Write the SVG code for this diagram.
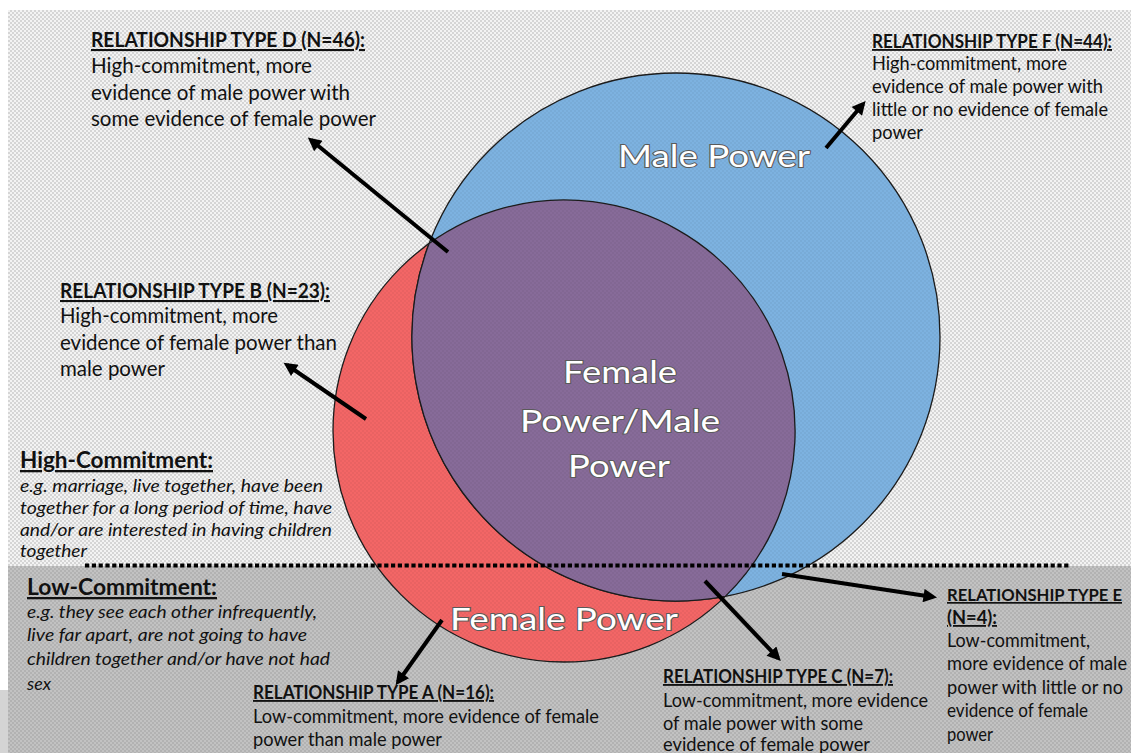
<svg xmlns="http://www.w3.org/2000/svg" width="1131" height="753" viewBox="0 0 1131 753">
<style>
text{font-family:Lato,"Liberation Sans",sans-serif;fill:#111;}
.h{font-weight:700;text-decoration:underline;}
.i{font-style:italic;}
.lbl{fill:#fff;stroke:#5a5a5a;stroke-width:2;paint-order:stroke;font-size:30px;}
.circ{stroke:#1c1c1c;stroke-width:1.3;}
.arr{stroke:#000;stroke-width:4;fill:none;marker-end:url(#ah);}
</style>
<defs>
<pattern id="pl" width="4" height="4" patternUnits="userSpaceOnUse"><rect width="4" height="4" fill="#f3f3f3"/><circle cx="1" cy="1" r="0.8" fill="#b0b0b0"/><circle cx="3" cy="3" r="0.8" fill="#b0b0b0"/></pattern>
<pattern id="pd" width="4" height="4" patternUnits="userSpaceOnUse"><rect width="4" height="4" fill="#b2b2b2"/><circle cx="1" cy="1" r="0.8" fill="#d6d6d6"/><circle cx="3" cy="3" r="0.8" fill="#d6d6d6"/></pattern>
<pattern id="po" width="4" height="4" patternUnits="userSpaceOnUse"><circle cx="1" cy="1" r="0.7" fill="#000" fill-opacity="0.1"/><circle cx="3" cy="3" r="0.7" fill="#000" fill-opacity="0.1"/></pattern>
<marker id="ah" viewBox="0 0 10 10" refX="7" refY="5" markerWidth="3.6" markerHeight="3.4" orient="auto" markerUnits="strokeWidth"><path d="M0,0 L10,5 L0,10 z" fill="#000"/></marker>
</defs>
<rect width="1131" height="753" fill="#fff"/>
<rect x="8" y="10" width="1123" height="556" fill="url(#pl)"/>
<rect x="8" y="566" width="1123" height="187" fill="url(#pd)"/>
<rect x="0" y="690" width="8" height="63" fill="#d4d4d4"/>

<g id="female-circle">
<circle class="circ" cx="564" cy="431" r="231" fill="#f36666"/>
<circle cx="564" cy="431" r="231" fill="url(#po)"/>
</g>
<g id="male-circle">
<circle class="circ" cx="676" cy="337" r="264" fill="#7db2e0"/>
<circle cx="676" cy="337" r="264" fill="url(#po)"/>
</g>
<g id="overlap">
<path class="circ" d="M429.1,243.5 A264,264 0 0 0 725.3,596.4 A231,231 0 0 0 429.1,243.5 Z" fill="#876b99"/>
<path d="M429.1,243.5 A264,264 0 0 0 725.3,596.4 A231,231 0 0 0 429.1,243.5 Z" fill="url(#po)"/>
</g>

<g id="divider">
<line x1="85" y1="565.5" x2="1070" y2="565.5" stroke="#000" stroke-width="4" stroke-dasharray="4.2 2.6"/>
</g>

<g id="circle-labels">
<text class="lbl" x="618" y="167" textLength="192" lengthAdjust="spacingAndGlyphs">Male Power</text>
<text class="lbl" x="563" y="383" textLength="114" lengthAdjust="spacingAndGlyphs">Female</text>
<text class="lbl" x="520" y="432" textLength="200" lengthAdjust="spacingAndGlyphs">Power/Male</text>
<text class="lbl" x="568" y="477" textLength="102" lengthAdjust="spacingAndGlyphs">Power</text>
<text class="lbl" x="450" y="630" textLength="228" lengthAdjust="spacingAndGlyphs">Female Power</text>
</g>

<g id="connectors">
<line class="arr" x1="448" y1="252" x2="311" y2="140"/>
<line class="arr" x1="826" y1="148" x2="863" y2="104"/>
<line class="arr" x1="366" y1="419" x2="287" y2="365"/>
<line class="arr" x1="442" y1="620" x2="398" y2="682"/>
<line class="arr" x1="705" y1="581" x2="778" y2="658"/>
<line class="arr" x1="782" y1="574" x2="933" y2="597"/>
</g>

<g id="type-d" font-size="21">
<text class="h" x="91" y="47" textLength="274" lengthAdjust="spacingAndGlyphs" font-size="21">RELATIONSHIP TYPE D (N=46):</text>
<text x="91" y="73" textLength="221" lengthAdjust="spacingAndGlyphs">High-commitment, more</text>
<text x="91" y="99.5" textLength="259" lengthAdjust="spacingAndGlyphs">evidence of male power with</text>
<text x="91" y="126" textLength="285" lengthAdjust="spacingAndGlyphs">some evidence of female power</text>
</g>

<g id="type-f" font-size="18.5">
<text class="h" x="872" y="48" textLength="240" lengthAdjust="spacingAndGlyphs" font-size="18.5">RELATIONSHIP TYPE F (N=44):</text>
<text x="872" y="70" textLength="195" lengthAdjust="spacingAndGlyphs">High-commitment, more</text>
<text x="872" y="93" textLength="231" lengthAdjust="spacingAndGlyphs">evidence of male power with</text>
<text x="872" y="116" textLength="236" lengthAdjust="spacingAndGlyphs">little or no evidence of female</text>
<text x="872" y="139" textLength="51" lengthAdjust="spacingAndGlyphs">power</text>
</g>

<g id="type-b" font-size="21">
<text class="h" x="60" y="298" textLength="270" lengthAdjust="spacingAndGlyphs" font-size="21">RELATIONSHIP TYPE B (N=23):</text>
<text x="60" y="323" textLength="218" lengthAdjust="spacingAndGlyphs">High-commitment, more</text>
<text x="60" y="350" textLength="277" lengthAdjust="spacingAndGlyphs">evidence of female power than</text>
<text x="60" y="376" textLength="105" lengthAdjust="spacingAndGlyphs">male power</text>
</g>

<g id="high-commitment" font-size="17">
<text class="h" x="20" y="468" textLength="193" lengthAdjust="spacingAndGlyphs" font-size="23">High-Commitment:</text>
<text class="i" x="20" y="492" textLength="303" lengthAdjust="spacingAndGlyphs">e.g. marriage, live together, have been</text>
<text class="i" x="20" y="514" textLength="312" lengthAdjust="spacingAndGlyphs">together for a long period of time, have</text>
<text class="i" x="20" y="536" textLength="312" lengthAdjust="spacingAndGlyphs">and/or are interested in having children</text>
<text class="i" x="20" y="557" textLength="67" lengthAdjust="spacingAndGlyphs">together</text>
</g>

<g id="low-commitment" font-size="17.5">
<text class="h" x="27" y="595" textLength="190" lengthAdjust="spacingAndGlyphs" font-size="23">Low-Commitment:</text>
<text class="i" x="27" y="618" textLength="290" lengthAdjust="spacingAndGlyphs">e.g. they see each other infrequently,</text>
<text class="i" x="27" y="641" textLength="280" lengthAdjust="spacingAndGlyphs">live far apart, are not going to have</text>
<text class="i" x="27" y="665" textLength="303" lengthAdjust="spacingAndGlyphs">children together and/or have not had</text>
<text class="i" x="27" y="690" textLength="24" lengthAdjust="spacingAndGlyphs">sex</text>
</g>

<g id="type-a" font-size="18.5">
<text class="h" x="253" y="699" textLength="241" lengthAdjust="spacingAndGlyphs" font-size="18.5">RELATIONSHIP TYPE A (N=16):</text>
<text x="253" y="723" textLength="346" lengthAdjust="spacingAndGlyphs">Low-commitment, more evidence of female</text>
<text x="253" y="746" textLength="189" lengthAdjust="spacingAndGlyphs">power than male power</text>
</g>

<g id="type-c" font-size="18.5">
<text class="h" x="663" y="683" textLength="230" lengthAdjust="spacingAndGlyphs" font-size="18.5">RELATIONSHIP TYPE C (N=7):</text>
<text x="663" y="707" textLength="265" lengthAdjust="spacingAndGlyphs">Low-commitment, more evidence</text>
<text x="663" y="730" textLength="200" lengthAdjust="spacingAndGlyphs">of male power with some</text>
<text x="663" y="751" textLength="207" lengthAdjust="spacingAndGlyphs">evidence of female power</text>
</g>

<g id="type-e" font-size="18.5">
<text class="h" x="947" y="601" textLength="175" lengthAdjust="spacingAndGlyphs" font-size="17">RELATIONSHIP TYPE E</text>
<text class="h" x="947" y="624" textLength="50" lengthAdjust="spacingAndGlyphs" font-size="18">(N=4):</text>
<text x="947" y="647" textLength="143" lengthAdjust="spacingAndGlyphs">Low-commitment,</text>
<text x="947" y="670" textLength="180" lengthAdjust="spacingAndGlyphs">more evidence of male</text>
<text x="947" y="694" textLength="176" lengthAdjust="spacingAndGlyphs">power with little or no</text>
<text x="947" y="717" textLength="141" lengthAdjust="spacingAndGlyphs">evidence of female</text>
<text x="947" y="741" textLength="46" lengthAdjust="spacingAndGlyphs">power</text>
</g>
</svg>
